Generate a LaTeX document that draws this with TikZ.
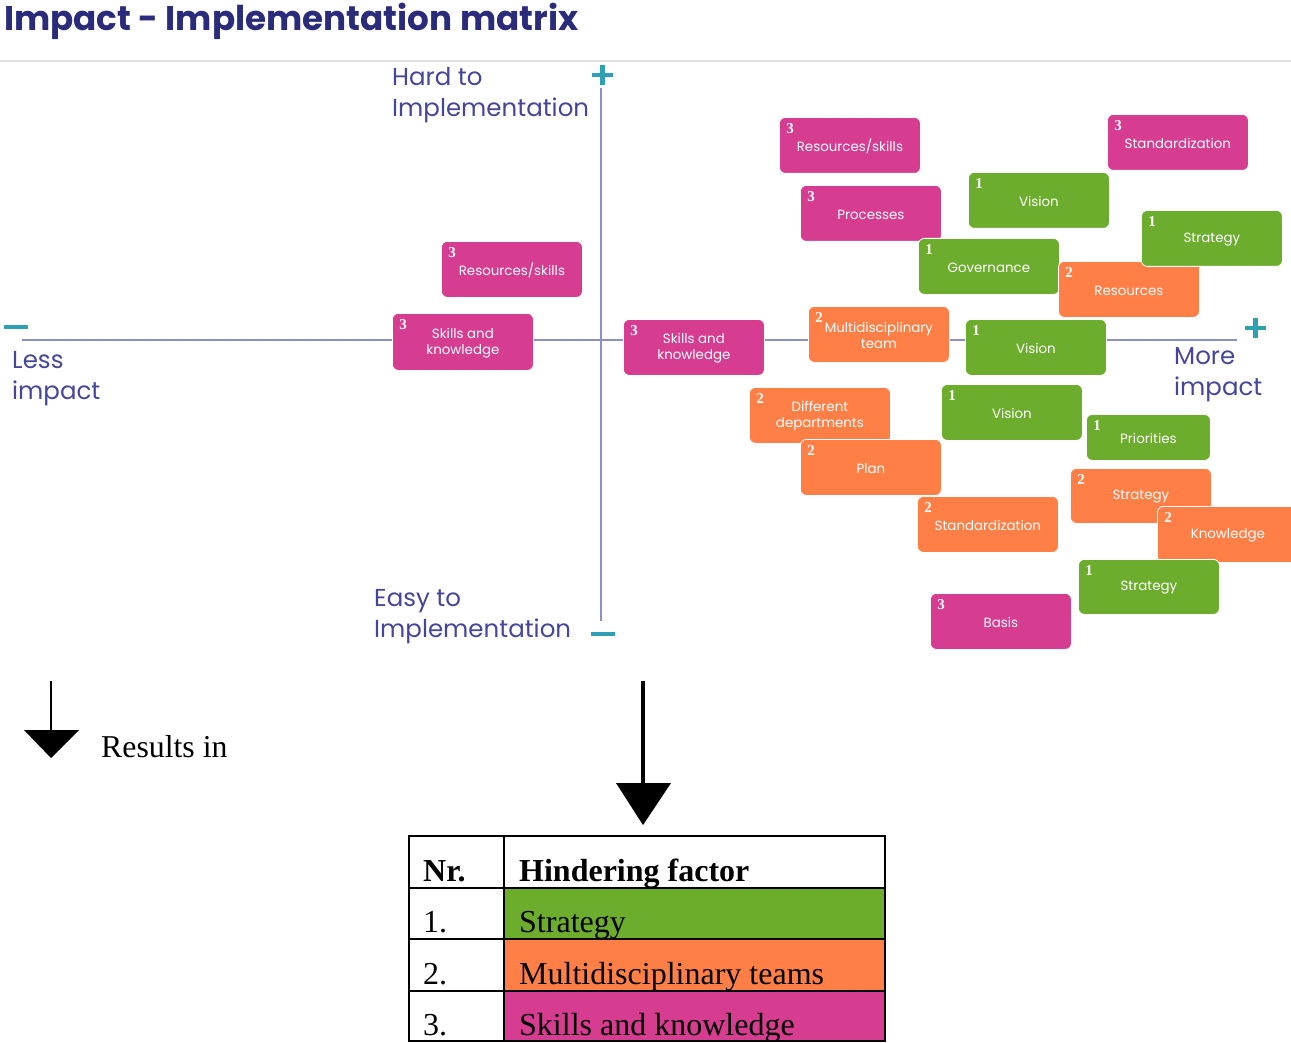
\documentclass[tikz,border=0pt]{standalone}
\usepackage{fontspec}
\setmainfont{Liberation Serif}
\newfontfamily\geo{Poppins}
\definecolor{navy}{HTML}{2A2B7A}
\definecolor{axislbl}{HTML}{45469A}
\definecolor{axisline}{HTML}{8C90C4}
\definecolor{teal}{HTML}{2FA0B3}
\definecolor{mag}{HTML}{D63C8F}
\definecolor{grn}{HTML}{6DAD2E}
\definecolor{org}{HTML}{FF7F47}
\tikzset{
  fbox/.style={draw=white, line width=0.8pt, rounded corners=6pt, inner sep=0pt},
  ftext/.style={text=white, font=\geo\fontsize{13.4}{16}\selectfont, align=center, inner sep=0pt},
  fnum/.style={text=white, font=\bfseries\fontsize{15}{15}\selectfont, inner sep=0pt},
  axlbl/.style={text=axislbl, font=\geo\fontsize{24.5}{31}\selectfont, align=left, inner sep=0pt, anchor=north west},
  sign/.style={teal, line width=4.5pt},
  tcell/.style={draw=black, line width=2.4pt},
  ttext/.style={font=\fontsize{32}{32}\selectfont, anchor=base west, inner sep=0pt},
  thead/.style={ttext, font=\bfseries\fontsize{32}{32}\selectfont},
}
% one coloured factor card: name, colour, x1, y1, x2, y2, number, label
\newcommand\factor[8]{%
  \node[fbox, fill=#2, minimum width={#5-#3}, minimum height={#6-#4}, anchor=north west] (#1) at (#3,#4) {};
  \node[ftext] (#1-t) at ([yshift=-1pt]#1.center) {#8};
  \node[fnum] (#1-n) at ([xshift=11pt,yshift=-12pt]#1.north west) {#7};
}
\begin{document}
\begin{tikzpicture}[x=1pt,y=-1pt]
\useasboundingbox (0,0) rectangle (1291,1043);
\fill[white] (0,0) rectangle (1291,1043);

% title and rule
\node[anchor=base west, inner sep=0pt, text=navy, font=\geo\bfseries\fontsize{34.2}{34}\selectfont] (title) at (4,31) {Impact - Implementation matrix};
\draw[black!12, line width=2pt] (0,61) -- (1291,61);

% axes
\coordinate (xl) at (22,340);
\coordinate (xr) at (1237,340);
\coordinate (yt) at (601,88);
\coordinate (yb) at (601,621);
\draw[axisline, line width=1.6pt] (xl) -- (xr);
\draw[axisline, line width=1.6pt] (yt) -- (yb);

% signs at the axis ends
\draw[sign] (592,75) -- (613,75);
\draw[sign] (602.5,65) -- (602.5,85);
\draw[sign] (1245,328) -- (1266,328);
\draw[sign] (1255.5,318) -- (1255.5,338);
\draw[sign] (4,327) -- (28,327);
\draw[sign] (591,634) -- (615,634);

% axis labels
\node[axlbl] (hard) at (392,67) {Hard to\\Implementation};
\node[axlbl] (easy) at (374,589) {Easy to\\Implementation};
\node[axlbl] (less) at (12,351) {Less\\impact};
\node[axlbl] (more) at (1174,347) {More\\impact};

% factor cards
\factor{c1}{mag}{779}{117}{920}{173}{3}{Resources/skills}
\factor{c2}{mag}{1107}{114}{1248}{170}{3}{Standardization}
\factor{c3}{grn}{968}{172}{1109}{228}{1}{Vision}
\factor{c4}{mag}{800}{185}{941}{241}{3}{Processes}
\factor{c5}{grn}{918}{238}{1059}{294}{1}{Governance}
\factor{c6}{org}{1058}{261}{1199}{317}{2}{Resources}
\factor{c7}{grn}{1141}{210}{1282}{266}{1}{Strategy}
\factor{c8}{mag}{441}{241}{582}{297}{3}{Resources/skills}
\factor{c9}{mag}{392}{313}{533}{370}{3}{Skills and\\knowledge}
\factor{c10}{mag}{623}{319}{764}{375}{3}{Skills and\\knowledge}
\factor{c11}{org}{808}{306}{949}{362}{2}{Multidisciplinary\\team}
\factor{c12}{grn}{965}{319}{1106}{375}{1}{Vision}
\factor{c13}{org}{749}{387}{890}{443}{2}{Different\\departments}
\factor{c14}{grn}{941}{384}{1082}{440}{1}{Vision}
\factor{c15}{grn}{1086}{414}{1210}{460}{1}{Priorities}
\factor{c16}{org}{800}{439}{941}{495}{2}{Plan}
\factor{c17}{org}{1070}{468}{1211}{523}{2}{Strategy}
\factor{c18}{org}{917}{496}{1058}{552}{2}{Standardization}
\factor{c19}{org}{1157}{506}{1298}{562}{2}{Knowledge}
\factor{c20}{grn}{1078}{559}{1219}{614}{1}{Strategy}
\factor{c21}{mag}{930}{593}{1071}{649}{3}{Basis}

% arrows
\coordinate (a1s) at (51,681);
\coordinate (a1e) at (51,731);
\draw[black, line width=1.3pt] (a1s) -- (a1e);
\fill[black] (24,730) -- (79,730) -- (51,758) -- cycle;
\node[anchor=base west, inner sep=0pt, font=\fontsize{31.8}{32}\selectfont] (res) at (101,757) {Results in};
\coordinate (a2s) at (643,681);
\coordinate (a2e) at (643,785);
\draw[black, line width=4pt] (a2s) -- (a2e);
\fill[black] (616,783) -- (671,783) -- (643,825) -- cycle;

% table
\fill[grn] (504,888) rectangle (885,939);
\fill[org] (504,939) rectangle (885,991);
\fill[mag] (504,991) rectangle (885,1041);
\draw[tcell] (409,836) rectangle (885,1041);
\draw[tcell] (504,836) -- (504,1041);
\draw[tcell] (409,888) -- (885,888);
\draw[tcell] (409,939) -- (885,939);
\draw[tcell] (409,991) -- (885,991);
\node[thead] (hn) at (423,881) {Nr.};
\node[thead] (hf) at (519,881) {Hindering factor};
\node[ttext] (n1) at (423,932) {1.};
\node[ttext] (f1) at (519,932) {Strategy};
\node[ttext] (n2) at (423,984) {2.};
\node[ttext] (f2) at (519,984) {Multidisciplinary teams};
\node[ttext] (n3) at (423,1035) {3.};
\node[ttext] (f3) at (519,1035) {Skills and knowledge};
\end{tikzpicture}
\end{document}
